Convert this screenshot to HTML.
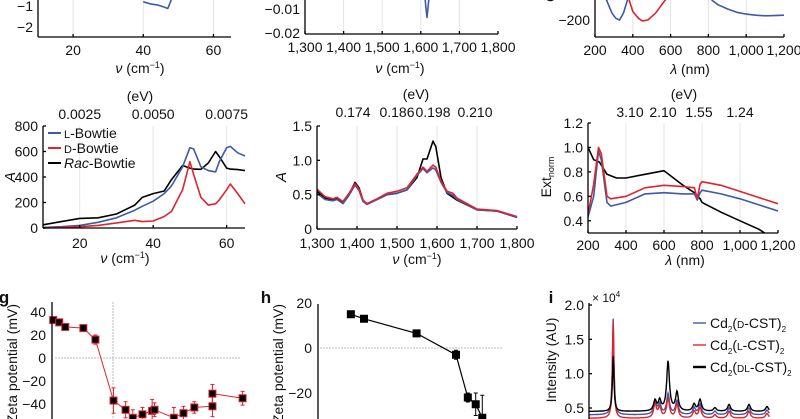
<!DOCTYPE html>
<html><head><meta charset="utf-8"><style>
html,body{margin:0;padding:0;background:#fff;}
svg{display:block;font-family:"Liberation Sans",sans-serif;}
</style></head><body>
<svg id="fig" width="800" height="419" viewBox="0 0 800 419" xmlns="http://www.w3.org/2000/svg"></svg>
<script>
// ---- data arrays ----
const aTopBlueX=[40,42,44,46,47,48,48.6];
const aTopBlueY=[-0.8,-0.9,-0.95,-1.05,-1.12,-0.7,0.3];
const aTopRedX=[50,51,52,53,55,57,58,59,60];
const aTopRedY=[0.1,-0.35,-0.2,0,0,-0.3,-0.5,-0.2,0.2];
const aTopXTicks=[20,40,60];
const aTopYTicks=[-1,-2];
const bTopX=[1595,1605,1610,1613,1616,1619,1622,1626,1632];
const bTopY=[-0.001,-0.002,-0.004,-0.009,-0.0135,-0.009,-0.004,-0.001,0];
const bTopXTicks=[1300,1400,1500,1600,1700,1800];
const bTopYTicks=[-0.01,-0.02];
const cTopBlueX=[230,260,290,310,330,350,370,390];
const cTopBlueY=[-20,-80,-160,-190,-200,-160,-90,-20];
const cTopRedX=[360,380,400,430,450,480,520,560,600,630];
const cTopRedY=[-20,-80,-150,-190,-205,-200,-160,-100,-40,0];
const cTopRedX2=[250,265,280];
const cTopRedY2=[-20,-80,-40];
const cTopBlue2X=[790,820,850,900,950,1000,1050,1100,1150,1200];
const cTopBlue2Y=[-40,-85,-110,-135,-155,-165,-172,-175,-174,-172];
const cTopXTicks=[200,400,600,800,1000,1200];
const dX=[10,15,20,25,30,35,37,40,43,45,48,50,51,53,55,57,58,60,61,63,65];
const dL=[5,10,20,45,80,140,170,210,270,330,480,630,620,480,450,440,520,630,640,590,565];
const dD=[0,5,10,20,40,60,50,55,90,130,300,520,420,240,180,190,220,300,345,270,190];
const dRac=[25,50,75,80,110,180,240,270,290,380,490,470,462,460,510,600,560,470,462,458,450];
const dXTicks=[20,40,60];
const dYTicks=[0,200,400,600,800];
const dTopTicks=["0.0025","0.0050","0.0075"];
const eX=[1300,1320,1340,1350,1365,1380,1395,1405,1415,1425,1450,1475,1500,1525,1550,1565,1575,1590,1597,1610,1625,1640,1650,1700,1750,1800];
const eBlack=[0.55,0.45,0.42,0.44,0.38,0.5,0.68,0.6,0.42,0.36,0.43,0.5,0.52,0.57,0.75,1.02,1.02,1.28,1.2,0.75,0.52,0.46,0.42,0.28,0.26,0.17];
const eRed=[0.58,0.47,0.44,0.46,0.4,0.52,0.66,0.58,0.42,0.37,0.44,0.52,0.55,0.6,0.8,0.9,0.84,0.93,0.9,0.7,0.55,0.52,0.45,0.29,0.27,0.18];
const eBlue=[0.52,0.43,0.41,0.43,0.37,0.49,0.64,0.56,0.4,0.36,0.43,0.5,0.52,0.57,0.78,0.88,0.82,0.89,0.86,0.68,0.53,0.49,0.43,0.28,0.26,0.17];
const eXTicks=[1300,1400,1500,1600,1700,1800];
const eYTicks=[0,0.5,1.0,1.5];
const eTopTicks=["0.174","0.186","0.198","0.210"];
const fBlackX=[200,230,260,300,350,400,500,600,650,700,760,790,800,900,1000,1100,1130];
const fBlackY=[1.0,0.9,0.88,0.78,0.75,0.75,0.78,0.81,0.75,0.69,0.63,0.58,0.55,0.47,0.4,0.33,0.3];
const fX=[200,230,255,270,300,320,400,500,600,700,760,775,790,800,900,1000,1100,1200];
const fRed=[0.45,0.7,1.0,0.95,0.6,0.58,0.6,0.67,0.69,0.68,0.67,0.58,0.7,0.72,0.69,0.64,0.59,0.54];
const fBlue=[0.43,0.6,0.97,0.9,0.55,0.52,0.55,0.62,0.63,0.62,0.62,0.57,0.63,0.65,0.62,0.58,0.53,0.48];
const fXTicks=[200,400,600,800,1000,1200];
const fYTicks=[0.4,0.6,0.8,1.0,1.2];
const fTopTicks=["3.10","2.10","1.55","1.24"];
const gX=[0.1,0.6,1.1,2.6,3.6,5.1,6.1,6.7,7.5,8.3,8.5,10.1,10.9,11.8,13.3,13.3,15.8];
const gY=[33,31,27,26,16,-37,-45,-52,-49,-46,-45,-52,-48,-43,-42,-31,-35];
const gErr=[2,2,2,3,4,11,7,7,6,10,6,9,6,5,9,8,6];
const gYTicks=[40,20,0,-20,-40];
const hX=[2.5,3.5,7.5,10.5,11.4,12,12.5];
const hY=[15,13,6.5,-3,-22,-25,-31];
const hErr=[1,1,1,2,2,5,10];
const hYTicks=[20,0,-20];
const iPeakPos=[13,35.5,38,42.5,47.3,56.5,59.7,67.7,75.3,86,95.7];
const iBlackH=[0.8,0.15,0.15,0.72,0.27,0.1,0.17,0.05,0.1,0.1,0.07];
const iBlueH=[1.4,0.2,0.15,0.3,0.2,0.1,0.15,0.05,0.1,0.1,0.07];
const iRedH=[1.4,0.2,0.15,0.28,0.2,0.1,0.15,0.05,0.1,0.1,0.07];
const iBase=[0.45,0.4,0.35];
const iYTicks=[0.5,1.0,1.5,2.0];

const BLUE='#3b5aa8',RED='#e0242b',BLACK='#000';
const svg=document.getElementById('fig');
const NS='http://www.w3.org/2000/svg';
function mk(tag,attrs,name,inter,parent){
  const el=document.createElementNS(NS,tag);
  for(const k in attrs) el.setAttribute(k,attrs[k]);
  
  
  (parent||svg).appendChild(el);
  return el;
}
function txt(x,y,s,name,opts){
  opts=opts||{};
  const t=mk('text',{x:x,y:y,'font-size':opts.fs||14,'text-anchor':opts.anchor||'middle',fill:'#111','font-style':opts.it?'italic':'normal','font-weight':opts.bold?'bold':'normal'},name,false,opts.parent);
  if(opts.rot) t.setAttribute('transform','rotate(-90 '+x+' '+y+')');
  if(opts.html) t.innerHTML=s; else t.textContent=s;
  return t;
}
function lin(d0,d1,r0,r1){return v=>r0+(v-d0)*(r1-r0)/(d1-d0);}
function line(xs,ys,sx,sy,color,name,w,clip){
  let d='';
  for(let i=0;i<xs.length;i++){d+=(i?'L':'M')+sx(xs[i]).toFixed(1)+' '+sy(ys[i]).toFixed(1);}
  const p=mk('path',{d:d,fill:'none',stroke:color,'stroke-width':w||1.6,'stroke-linejoin':'round'},name,false);
  if(clip) p.setAttribute('clip-path','url(#'+clip+')');
  return p;
}
function seg(x1,y1,x2,y2,name,stroke,w,dash){
  const l=mk('line',{x1:x1,y1:y1,x2:x2,y2:y2,stroke:stroke||'#000','stroke-width':w||1.3},name,false);
  if(dash) l.setAttribute('stroke-dasharray',dash);
  return l;
}
const defs=mk('defs',{},'defs',false);
function clipRect(id,x,y,w,h){const c=mk('clipPath',{id:id},'clip-'+id,false,defs);mk('rect',{x:x,y:y,width:w,height:h},'clip-rect',false,c);}
function fmt(v){return v<0?'\u2212'+String(-v):String(v);}
function comma(v){return v>=1000?String(v).replace(/(\d)(\d{3})$/,'$1,$2'):String(v);}
const NU='<tspan font-style="italic">ν</tspan> (cm<tspan font-size="9" dy="-5">−1</tspan><tspan dy="5">)</tspan>';

// a-top
(function(){
  const sx=lin(10,65,38,231), sy=lin(-1,-2,6,27);
  clipRect('cA',38,0,193,37);
  aTopXTicks.forEach(v=>{seg(sx(v),0,sx(v),37,'grid-line','#e3e3e3',1);});
  line(aTopBlueX,aTopBlueY,sx,sy,BLUE,'cd-l-bowtie-line',1.6,'cA');
  line(aTopRedX,aTopRedY,sx,sy,RED,'cd-d-bowtie-line',1.6,'cA');
  seg(38,0,38,37,'y-axis');seg(38,37,231,37,'x-axis');
  aTopYTicks.forEach(v=>{txt(33,sy(v)+5,fmt(v),'y-tick-label',{anchor:'end'});});
  aTopXTicks.forEach(v=>{seg(sx(v),37,sx(v),34,'x-tick');txt(sx(v),55,String(v),'x-tick-label');});
  txt(140,73,NU,'x-axis-title',{html:true});
})();
// b-top
(function(){
  const sx=lin(1300,1800,305,498), sy=lin(-0.01,-0.02,9,33);
  clipRect('cB',305,0,193,34);
  [1400,1500,1600,1700].forEach(v=>{seg(sx(v),0,sx(v),34,'grid-line','#e3e3e3',1);});
  line(bTopX,bTopY,sx,sy,BLUE,'cd-spectrum-line',1.6,'cB');
  seg(305,0,305,34,'y-axis');seg(305,34,498,34,'x-axis');
  bTopYTicks.forEach(v=>{txt(300,sy(v)+5,fmt(v),'y-tick-label',{anchor:'end'});});
  bTopXTicks.forEach(v=>{seg(sx(v),34,sx(v),31,'x-tick');txt(sx(v),52,comma(v),'x-tick-label');});
  txt(400,73,NU,'x-axis-title',{html:true});
})();
// c-top
(function(){
  const sx=lin(200,1200,595,784), sy=lin(-200,-300,20,37);
  clipRect('cC',595,0,189,37);
  [400,600,800,1000].forEach(v=>{seg(sx(v),0,sx(v),37,'grid-line','#e3e3e3',1);});
  line(cTopBlueX,cTopBlueY,sx,sy,BLUE,'cd-l-line',1.6,'cC');
  line(cTopRedX,cTopRedY,sx,sy,RED,'cd-d-line',1.6,'cC');
  line(cTopRedX2,cTopRedY2,sx,sy,RED,'cd-d-line-2',1.6,'cC');
  line(cTopBlue2X,cTopBlue2Y,sx,sy,BLUE,'cd-l-line-2',1.6,'cC');
  seg(595,0,595,37,'y-axis');seg(595,37,784,37,'x-axis');
  txt(590,25,'\u2212200','y-tick-label',{anchor:'end'});
  txt(555,2,'CD','y-axis-title',{rot:true,anchor:'start'});
  cTopXTicks.forEach(v=>{seg(sx(v),37,sx(v),34,'x-tick');txt(sx(v),55,comma(v),'x-tick-label');});
  txt(690,74,'<tspan font-style="italic">λ</tspan> (nm)','x-axis-title',{html:true});
})();
// d
(function(){
  const sx=lin(10,65,43,245), sy=lin(0,800,228,126);
  dXTicks.forEach(v=>{seg(sx(v),126,sx(v),228,'grid-line','#e6e6e6',1);});
  line(dX,dRac,sx,sy,BLACK,'rac-bowtie-line');
  line(dX,dL,sx,sy,BLUE,'l-bowtie-line');
  line(dX,dD,sx,sy,RED,'d-bowtie-line');
  seg(43,126,43,228,'y-axis');seg(43,228,245,228,'x-axis');
  dYTicks.forEach(v=>{seg(43,sy(v),46,sy(v),'y-tick');txt(38,sy(v)+5,String(v),'y-tick-label',{anchor:'end'});});
  dXTicks.forEach((v,i)=>{seg(sx(v),228,sx(v),225,'x-tick');txt(sx(v),248,String(v),'x-tick-label');txt(sx(v),119,dTopTicks[i],'top-tick-label');});
  txt(140,101,'(eV)','top-axis-title');
  txt(125,263,NU,'x-axis-title',{html:true});
  txt(15,177,'A','y-axis-title',{rot:true,it:true,fs:15});
  const leg=[[BLUE,'<tspan font-size="11">L</tspan>-Bowtie','legend-l-bowtie'],[RED,'<tspan font-size="11">D</tspan>-Bowtie','legend-d-bowtie'],[BLACK,'<tspan font-style="italic">Rac</tspan>-Bowtie','legend-rac-bowtie']];
  leg.forEach((e,i)=>{const y=133+i*15;seg(48,y,61,y,e[2]+'-swatch',e[0],2);txt(64,y+5,e[1],e[2],{anchor:'start',html:true});});
})();
// e
(function(){
  const sx=lin(1300,1800,317,517), sy=lin(0,1.5,229,126);
  [1400,1500,1600,1700].forEach(v=>{seg(sx(v),126,sx(v),229,'grid-line','#e6e6e6',1);});
  line(eX,eBlack,sx,sy,BLACK,'rac-bowtie-line');
  line(eX,eBlue,sx,sy,BLUE,'l-bowtie-line');
  line(eX,eRed,sx,sy,RED,'d-bowtie-line');
  seg(317,126,317,229,'y-axis');seg(317,229,517,229,'x-axis');
  eYTicks.forEach(v=>{seg(317,sy(v),320,sy(v),'y-tick');txt(312,sy(v)+5,v===0?'0':v.toFixed(1),'y-tick-label',{anchor:'end'});});
  eXTicks.forEach(v=>{seg(sx(v),229,sx(v),226,'x-tick');txt(sx(v),248,comma(v),'x-tick-label');});
  [353,397,433,475].forEach((x,i)=>{txt(x,117,eTopTicks[i],'top-tick-label');});
  txt(416,99,'(eV)','top-axis-title');
  txt(417,264,NU,'x-axis-title',{html:true});
  txt(286,177,'A','y-axis-title',{rot:true,it:true,fs:15});
})();
// f
(function(){
  const sx=lin(200,1200,588,778), sy=lin(0.3,1.2,233,123);
  clipRect('cF',588,123,190,110);
  [400,600,800,1000].forEach(v=>{seg(sx(v),123,sx(v),233,'grid-line','#e6e6e6',1);});
  line(fBlackX,fBlackY,sx,sy,BLACK,'rac-ext-line',1.6,'cF');
  line(fX,fBlue,sx,sy,BLUE,'l-ext-line',1.6,'cF');
  line(fX,fRed,sx,sy,RED,'d-ext-line',1.6,'cF');
  seg(588,123,588,233,'y-axis');seg(588,233,778,233,'x-axis');
  fYTicks.forEach(v=>{seg(588,sy(v),591,sy(v),'y-tick');txt(583,sy(v)+5,v.toFixed(1),'y-tick-label',{anchor:'end'});});
  fXTicks.forEach(v=>{seg(sx(v),233,sx(v),230,'x-tick');txt(sx(v),250,comma(v),'x-tick-label');});
  [630,663,699,740].forEach((x,i)=>{txt(x,117,fTopTicks[i],'top-tick-label');});
  txt(684,99,'(eV)','top-axis-title');
  txt(685,265,'<tspan font-style="italic">λ</tspan> (nm)','x-axis-title',{html:true});
  txt(551,177,'Ext<tspan font-size="9" dy="3">norm</tspan>','y-axis-title',{rot:true,html:true});
})();
function squares(xs,ys,errs,sx,sy,ecol,name){
  xs.forEach((x,i)=>{
    const px=sx(x),py=sy(ys[i]);
    seg(px,sy(ys[i]+errs[i]),px,sy(ys[i]-errs[i]),name+'-error-bar',ecol,1);
    seg(px-2,sy(ys[i]+errs[i]),px+2,sy(ys[i]+errs[i]),name+'-error-cap',ecol,1);
    seg(px-2,sy(ys[i]-errs[i]),px+2,sy(ys[i]-errs[i]),name+'-error-cap',ecol,1);
    mk('rect',{x:px-3.5,y:py-3.5,width:7,height:7,fill:'#000',stroke:ecol,'stroke-width':1},name+'-point',false);
  });
}
// g
(function(){
  const sx=lin(0,16,52,245), sy=lin(0,-40,358,404);
  txt(4,303,'g','panel-label-g',{bold:true,fs:17});
  seg(55,358,240,358,'zero-line','#aaa',0.8,'2,1');
  seg(113,302,113,419,'reference-line','#aaa',0.8,'2,1');
  line(gX,gY,sx,sy,RED,'zeta-line',1);
  squares(gX,gY,gErr,sx,sy,RED,'zeta');
  seg(52,302,52,419,'y-axis');
  gYTicks.forEach(v=>{txt(46,sy(v)+5,fmt(v),'y-tick-label',{anchor:'end'});});
  txt(17,304,'Zeta potential (mV)','y-axis-title',{rot:true,anchor:'end'});
})();
// h
(function(){
  const sx=lin(0,14,318,502), sy=lin(0,-20,348,393);
  txt(266,303,'h','panel-label-h',{bold:true,fs:17});
  seg(320,348,502,348,'zero-line','#aaa',0.8,'2,1');
  line(hX,hY,sx,sy,BLACK,'zeta-line',1.2);
  squares(hX,hY,hErr,sx,sy,BLACK,'zeta');
  seg(318,304,318,419,'y-axis');
  hYTicks.forEach(v=>{txt(312,sy(v)+5,fmt(v),'y-tick-label',{anchor:'end'});});
  txt(283,304,'Zeta potential (mV)','y-axis-title',{rot:true,anchor:'end'});
})();
// i
(function(){
  const sx=lin(0,100,589,775), sy=lin(0.5,2.0,408,305);
  clipRect('cI',589,296,190,123);
  txt(551,303,'i','panel-label-i',{bold:true,fs:17});
  const series=[[iBlueH,iBase[1],BLUE,'d-cst-pattern'],[iRedH,iBase[2],RED,'l-cst-pattern'],[iBlackH,iBase[0],BLACK,'dl-cst-pattern']];
  series.forEach(s=>{
    let d='';
    for(let u=0;u<=97;u+=0.25){
      let v=s[1];
      iPeakPos.forEach((p,k)=>{const w=p<20?0.5:0.9;v+=s[0][k]/(1+((u-p)/w)**2);});
      d+=(u?'L':'M')+sx(u).toFixed(1)+' '+sy(v).toFixed(1);
    }
    mk('path',{d:d,fill:'none',stroke:s[2],'stroke-width':1.4,'clip-path':'url(#cI)'},s[3],false);
  });
  seg(589,303,589,419,'y-axis');
  iYTicks.forEach(v=>{seg(589,sy(v),592,sy(v),'y-tick');txt(584,sy(v)+5,v.toFixed(1),'y-tick-label',{anchor:'end'});});
  txt(592,302,'× 10<tspan font-size="8" dy="-5">4</tspan>','y-scale-label',{anchor:'start',html:true,fs:12});
  txt(556,360,'Intensity (AU)','y-axis-title',{rot:true});
  const leg=[[BLUE,'Cd<tspan font-size="8" dy="4">2</tspan><tspan dy="-4">(</tspan><tspan font-size="10">D</tspan>-CST)<tspan font-size="8" dy="4">2</tspan>','legend-d-cst'],
             [RED,'Cd<tspan font-size="8" dy="4">2</tspan><tspan dy="-4">(</tspan><tspan font-size="10">L</tspan>-CST)<tspan font-size="8" dy="4">2</tspan>','legend-l-cst'],
             [BLACK,'Cd<tspan font-size="8" dy="4">2</tspan><tspan dy="-4">(</tspan><tspan font-size="10">DL</tspan>-CST)<tspan font-size="8" dy="4">2</tspan>','legend-dl-cst']];
  leg.forEach((e,i)=>{const y=323+i*22;seg(693,y,706,y,e[2]+'-swatch',e[0],i===2?2.4:1.4);txt(710,y+5,e[1],e[2],{anchor:'start',html:true});});
})();
</script>
</body></html>
